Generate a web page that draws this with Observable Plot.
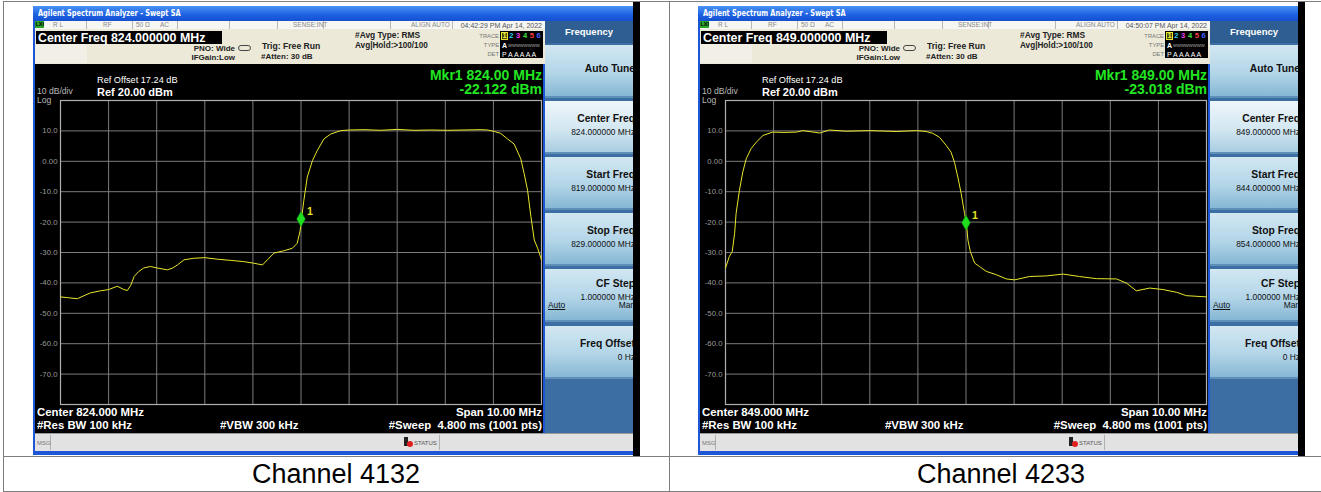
<!DOCTYPE html>
<html><head><meta charset="utf-8">
<script src="https://cdn.jsdelivr.net/npm/d3@7"></script>
<script src="https://cdn.jsdelivr.net/npm/@observablehq/plot@0.6"></script>
<style>
body{margin:0;background:#fff;}
#page{position:relative;width:1321px;height:492px;overflow:hidden;font-family:"Liberation Sans",Arial,sans-serif;}
.a{position:absolute;white-space:nowrap;}
</style></head><body><div id="page"></div>
<script>
// ---------- DATA ----------
const captions = ["Channel 4132", "Channel 4233"];
const centerFreqs = [824, 849];           // MHz
const spanMHz = 10;
const timestamps = ["04:42:29 PM Apr 14, 2022", "04:50:07 PM Apr 14, 2022"];
const markerFreqs = [824.00, 849.00];
const markerReadouts = ["-22.122 dBm", "-23.018 dBm"];
const markerLevels = [-19.0, -20.2];     // where the diamond is drawn
const yTicks = [10, 0, -10, -20, -30, -40, -50, -60, -70];
const yTickLabels = ["10.0", "0.00", "-10.0", "-20.0", "-30.0", "-40.0", "-50.0", "-60.0", "-70.0"];
const yDomain = [-80, 20];

const trace4132Freq = [819.00,819.17,819.35,819.49,819.62,819.83,820.00,820.18,820.32,820.39,820.46,820.53,820.63,820.73,820.87,821.01,821.22,821.32,821.43,821.57,821.77,822.00,822.26,822.54,822.81,823.01,823.20,823.30,823.44,823.65,823.82,823.92,823.98,824.01,824.06,824.13,824.24,824.34,824.48,824.62,824.83,825.01,825.31,825.66,826.00,826.35,826.70,827.04,827.39,827.74,827.88,828.02,828.15,828.29,828.43,828.57,828.64,828.71,828.78,828.85,828.92,829.00];
const trace4132Level = [-44.6,-44.9,-45.2,-44.2,-43.3,-42.6,-42.2,-41.1,-42.2,-42.5,-40.8,-37.9,-36.2,-35.1,-34.6,-35.1,-35.7,-35.2,-34.1,-32.4,-31.9,-31.7,-32.2,-32.6,-33.0,-33.5,-34.1,-32.4,-30.2,-29.4,-28.6,-27.0,-23.0,-19.0,-12.8,-5.2,0.3,3.6,7.4,9.0,10.1,10.3,10.4,10.2,10.5,10.2,10.3,10.2,10.3,10.4,10.3,9.8,9.2,7.4,5.7,0.8,-4.1,-9.5,-18.2,-25.9,-28.6,-32.4];

const trace4233Freq = [844.00,844.08,844.14,844.19,844.22,844.29,844.36,844.43,844.53,844.64,844.78,844.98,845.19,845.47,845.61,845.96,846.16,846.51,847.00,847.55,847.97,848.17,848.31,848.45,848.59,848.69,848.76,848.83,848.90,848.97,849.01,849.04,849.09,849.18,849.28,849.42,849.63,849.84,850.01,850.32,850.67,851.02,851.36,851.71,852.13,852.34,852.54,852.82,853.10,853.38,853.58,854.00];
const trace4233Level = [-35.1,-31.3,-29.7,-23.7,-17.2,-9.5,-3.5,0.8,4.1,6.3,8.5,9.6,9.5,9.6,10.1,9.3,10.3,9.9,10.1,9.8,10.1,9.8,9.2,7.9,5.2,3.0,-0.3,-5.2,-10.6,-17.2,-20.4,-25.9,-29.7,-33.5,-34.6,-36.2,-37.3,-38.7,-39.0,-37.9,-37.7,-37.1,-37.9,-38.6,-38.7,-40.1,-42.6,-41.7,-42.2,-43.1,-44.2,-44.6];

const traceFreqs = [trace4132Freq, trace4233Freq];
const traceLevels = [trace4132Level, trace4233Level];

const softkeyTitles = ["Auto Tune", "Center Freq", "Start Freq", "Stop Freq", "CF Step", "Freq Offset"];

// ---------- HELPERS ----------
const page = document.getElementById('page');
function box(parent, x, y, w, h, style) {
  const d = document.createElement('div'); d.className = 'a';
  Object.assign(d.style, {left: x + 'px', top: y + 'px', width: w + 'px', height: h + 'px'}, style || {});
  parent.appendChild(d); return d;
}
function txt(parent, s, x, y, size, style, align) {
  const d = document.createElement('div'); d.className = 'a'; d.textContent = s;
  const h = Math.round(size * 1.3);
  d.style.fontSize = size + 'px'; d.style.lineHeight = h + 'px'; d.style.top = (y - h / 2) + 'px';
  if (align === 'right') { d.style.left = (x - 500) + 'px'; d.style.width = '500px'; d.style.textAlign = 'right'; }
  else if (align === 'center') { d.style.left = (x - 250) + 'px'; d.style.width = '500px'; d.style.textAlign = 'center'; }
  else d.style.left = x + 'px';
  Object.assign(d.style, style || {});
  parent.appendChild(d); return d;
}
const fmt6 = v => v.toFixed(6) + " MHz";

// ---------- TABLE ----------
const lineC = "#7d7d7d";
box(page, 3, 1, 1330, 1, {background: lineC});
box(page, 3, 1, 1, 492, {background: lineC});
box(page, 669, 1, 1, 492, {background: lineC});
box(page, 3, 456, 1330, 1, {background: lineC});
box(page, 3, 491, 1330, 1, {background: lineC});

// ---------- PANELS ----------
function panel(k) {
  const dx = k * 665;
  const cf = centerFreqs[k];
  const X = x => x + dx;
  // window frame
  box(page, X(33), 6, 600, 449, {background: "#1d56d6"});
  box(page, X(633), 2, 7, 454, {background: "#000"});
  // title bar
  box(page, X(33), 6, 600, 15, {background: "linear-gradient(#4a93f5,#1c5fe2 60%,#1550d0)"});
  txt(page, "Agilent Spectrum Analyzer - Swept SA", X(38), 13.5, 8, {color: "#fff", fontWeight: "bold", fontFamily: "DejaVu Sans Condensed, DejaVu Sans, sans-serif", transform: "scaleX(0.92)", transformOrigin: "left"});
  // status row
  box(page, X(35), 21, 510, 8, {background: "#f6f6f3"});
  box(page, X(35), 21, 9, 7, {background: "#2aa52a"});
  txt(page, "LXI", X(35.5), 24.5, 5.5, {color: "#000", fontWeight: "bold"});
  [86, 132, 177, 229, 277, 323, 390, 452].forEach(s => box(page, X(s), 21, 1, 8, {background: "#b8b8b8"}));
  const sc = {color: "#8a8a8a"};
  txt(page, "R L", X(53), 25, 6.5, sc);
  txt(page, "RF", X(103), 25, 6.5, sc);
  txt(page, "50 Ω", X(136), 25, 6.5, sc);
  txt(page, "AC", X(160), 25, 6.5, sc);
  txt(page, "SENSE:INT", X(293), 25, 6.5, sc);
  txt(page, "ALIGN AUTO", X(411), 25, 6.5, sc);
  txt(page, timestamps[k], X(542), 25, 7, {color: "#555"}, 'right');
  // header beige
  box(page, X(35), 29, 510, 35, {background: "#ece9d8"});
  box(page, X(35), 44, 52, 19, {background: "#f2f0e6"});
  box(page, X(36), 31, 186, 13, {background: "#000"});
  txt(page, "Center Freq " + fmt6(cf), X(38), 37.5, 12.4, {color: "#fff", fontWeight: "bold"});
  const hb = {color: "#222", fontWeight: "bold"};
  txt(page, "PNO: Wide", X(235), 48.5, 8, hb, 'right');
  box(page, X(238), 45, 13, 6, {border: "1px solid #444", borderRadius: "3px", boxSizing: "border-box"});
  txt(page, "IFGain:Low", X(235), 58, 8, hb, 'right');
  txt(page, "Trig: Free Run", X(262), 46.5, 8.6, hb);
  txt(page, "#Atten: 30 dB", X(261), 57, 8, hb);
  txt(page, "#Avg Type: RMS", X(355), 35.5, 8.4, hb);
  txt(page, "Avg|Hold:>100/100", X(355), 45.5, 8.2, hb);
  const lc = {color: "#777"};
  txt(page, "TRACE", X(499), 35.5, 5.8, lc, 'right');
  txt(page, "TYPE", X(499), 44.5, 5.8, lc, 'right');
  txt(page, "DET", X(499), 53.5, 5.8, lc, 'right');
  box(page, X(500), 31, 43, 27, {background: "#000"});
  box(page, X(501), 32, 7, 8, {background: "#4a4a10", border: "1px solid #e6e630", boxSizing: "border-box"});
  const traceCols = ["#f0f040", "#30d0f0", "#f040f0", "#40e040", "#ff4040", "#4060ff"];
  traceCols.forEach((c, i) => txt(page, String(i + 1), X(502.5 + i * 6.8), 36, 7.5, {color: c, fontWeight: "bold"}));
  txt(page, "A", X(502), 45, 7, {color: "#fff", fontWeight: "bold"});
  txt(page, "WWWWWWWW", X(508), 45, 4.2, {color: "#bbb"});
  txt(page, "P A A A A A", X(502), 54, 7, {color: "#fff"});
  // display
  box(page, X(35), 64, 508, 370, {background: "#000"});
  const pdiv = box(page, X(35), 64, 508, 369, {});
  const data = traceFreqs[k].map((f, i) => ({f, v: traceLevels[k][i]}));
  const xGrid = d3.range(1, spanMHz).map(i => cf - spanMHz / 2 + i);
  const mk = [{f: markerFreqs[k], v: markerLevels[k]}];
  const tallDiamond = {draw(ctx, size) {
    const r = Math.sqrt(size / Math.PI);
    ctx.moveTo(0, -r * 1.5); ctx.lineTo(r * 0.85, 0); ctx.lineTo(0, r * 1.5); ctx.lineTo(-r * 0.85, 0); ctx.closePath();
  }};
  const chart = Plot.plot({
    width: 508, height: 369,
    marginLeft: 25, marginRight: 2, marginTop: 36, marginBottom: 29,
    style: {background: "#000", color: "#a0a0a0", fontFamily: "Liberation Sans, Arial, sans-serif", overflow: "visible"},
    x: {domain: [cf - spanMHz / 2, cf + spanMHz / 2], axis: null},
    y: {domain: yDomain, axis: null},
    marks: [
      Plot.ruleX(xGrid, {stroke: "#7c7c7c", strokeWidth: 1}),
      Plot.ruleY(yTicks, {stroke: "#7c7c7c", strokeWidth: 1}),
      Plot.frame({stroke: "#b0b0b0", strokeWidth: 1.2}),
      Plot.axisY({ticks: yTicks, tickSize: 0, tickPadding: 3, fontSize: 7.8, fill: "#9a9a9a", label: null,
        tickFormat: d => yTickLabels[yTicks.indexOf(d)]}),
      Plot.line(data, {x: "f", y: "v", stroke: "#e8e82a", strokeWidth: 1}),
      Plot.dot(mk, {x: "f", y: "v", symbol: tallDiamond, r: 5, fill: "#1fe01f", stroke: "#0b9a0b", strokeWidth: 0.6}),
      Plot.text(mk, {x: "f", y: "v", text: () => "1", dx: 9, dy: -7, fill: "#e6e628", fontSize: 10.5, fontWeight: "bold"})
    ]
  });
  pdiv.appendChild(chart);
  // display texts
  txt(page, "Ref Offset 17.24 dB", X(97), 80, 9.2, {color: "#fff"});
  txt(page, "Ref 20.00 dBm", X(97), 91.5, 11, {color: "#fff", fontWeight: "bold"});
  txt(page, "10 dB/div", X(37), 91.5, 8.6, {color: "#b8b8b8"});
  txt(page, "Log", X(37), 99.5, 8.6, {color: "#b8b8b8", lineHeight: "8px", top: "95.5px"});
  const g = {color: "#22e622", fontWeight: "bold"};
  txt(page, "Mkr1 " + markerFreqs[k].toFixed(2) + " MHz", X(542), 74.5, 14, g, 'right');
  txt(page, markerReadouts[k], X(542), 88.5, 14, g, 'right');
  const w = {color: "#fff", fontWeight: "bold"};
  txt(page, "Center " + cf.toFixed(3) + " MHz", X(37), 412.5, 11.4, w);
  txt(page, "Span " + spanMHz.toFixed(2) + " MHz", X(542), 412.5, 11.4, w, 'right');
  txt(page, "#Res BW 100 kHz", X(37), 425.5, 11.4, w);
  txt(page, "#VBW 300 kHz", X(220), 425.5, 11.4, w);
  txt(page, "#Sweep  4.800 ms (1001 pts)", X(542), 425.5, 11.4, {...w, whiteSpace: "pre"}, 'right');
  // MSG bar
  box(page, X(35), 433, 598, 1, {background: "#9a9a9a"});
  box(page, X(35), 434, 598, 17, {background: "#e2e2e2"});
  box(page, X(50), 435, 1, 15, {background: "#b0b0b0"});
  box(page, X(439), 435, 1, 15, {background: "#b0b0b0"});
  txt(page, "MSG", X(37), 443, 6, {color: "#777"});
  box(page, X(404), 437, 4, 9, {background: "#222"});
  box(page, X(407), 441, 6, 6, {background: "#e02020", borderRadius: "50%"});
  txt(page, "STATUS", X(414), 443, 6, {color: "#555"});
  // softkeys
  const sk = box(page, X(545), 21, 88, 412, {background: "#3c6ea3", overflow: "hidden"});
  box(sk, 0, 0, 88, 22, {background: "#2f5f92"});
  txt(sk, "Frequency", 44, 11, 9.5, {color: "#fff", fontWeight: "bold"}, 'center');
  const tops = [24, 80, 136, 192, 248, 305];
  const vals = [null, fmt6(cf), fmt6(cf - spanMHz / 2), fmt6(cf + spanMHz / 2), "1.000000 MHz", "0 Hz"];
  softkeyTitles.forEach((t, i) => {
    const y0 = tops[i];
    const sel = i === 1;
    box(sk, 0, y0, 88, 53, {background: sel ? "linear-gradient(#eef6fa,#d3e7f1 55%,#a9cde2)" : "linear-gradient(#d2e7f2,#b3d5e8 55%,#86b7d4)", borderBottom: "2px solid #5d8fb9", boxSizing: "border-box"});
    const ty = i === 0 ? y0 + 23 : (i === 4 ? y0 + 14 : y0 + 17);
    txt(sk, t, 90, ty, 10.3, {color: "#111", fontWeight: "bold"}, 'right');
    if (vals[i]) txt(sk, vals[i], 90, ty + 14, 8.4, {color: "#111"}, 'right');
    if (i === 4) {
      txt(sk, "Auto", 3, y0 + 36, 8.4, {color: "#111", textDecoration: "underline"});
      txt(sk, "Man", 90, y0 + 36, 8.4, {color: "#111"}, 'right');
    }
  });
  // caption
  txt(page, captions[k], X(336), 474, 27, {color: "#000"}, 'center');
}
panel(0);
panel(1);
</script></body></html>
